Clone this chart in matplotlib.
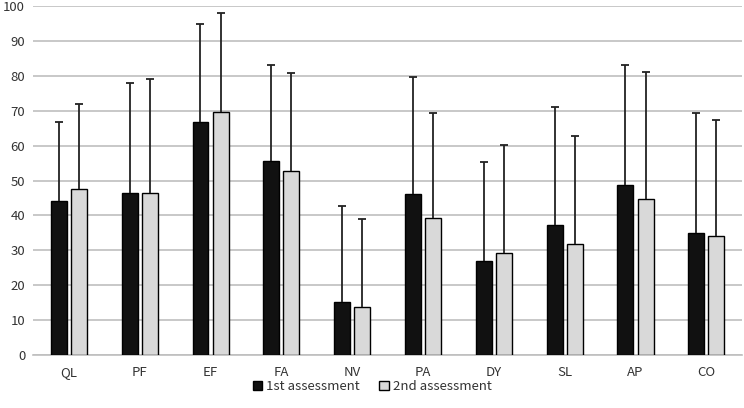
import numpy as np
import matplotlib
matplotlib.use("Agg")
import matplotlib.pyplot as plt

plt.rcParams['font.family'] = ['Noto Sans CJK JP', 'DejaVu Sans']

categories = ['QL', 'PF', 'EF', 'FA', 'NV', 'PA', 'DY', 'SL', 'AP', 'CO']
first_mean = [44.0, 46.5, 66.8, 55.7, 15.1, 46.0, 26.9, 37.3, 48.8, 35.1]
second_mean = [47.5, 46.3, 69.7, 52.6, 13.7, 39.2, 29.2, 31.7, 44.8, 34.1]
first_top = [66.8, 78.0, 94.8, 83.0, 42.7, 79.8, 55.2, 71.0, 83.2, 69.5]
second_top = [72.0, 79.2, 98.0, 80.8, 39.0, 69.4, 60.2, 62.8, 81.0, 67.4]

first_sd = np.array(first_top) - np.array(first_mean)
second_sd = np.array(second_top) - np.array(second_mean)

fig = plt.figure(figsize=(7.44, 4.08), dpi=100)
ax = fig.add_axes([0.045, 0.13, 0.952, 0.855])

x = np.arange(len(categories))
w = 0.225
off = 0.142

ax.bar(x - off, first_mean, w, color='#111111', edgecolor='black', linewidth=1,
       label='1st assessment', zorder=3)
ax.bar(x + off, second_mean, w, color='#d9d9d9', edgecolor='black', linewidth=1,
       label='2nd assessment', zorder=3)

for xs, m, sd in [(x - off, first_mean, first_sd), (x + off, second_mean, second_sd)]:
    eb = ax.errorbar(xs, m, yerr=[np.zeros(len(xs)), sd], fmt='none', ecolor='#222222',
                     elinewidth=1.3, capsize=3, capthick=1.3, zorder=4)
    eb[1][0].set_visible(False)

ax.set_xlim(-0.5, len(categories) - 0.5)
ax.set_ylim(0, 100)
ax.set_yticks(np.arange(0, 101, 10))
ax.set_xticks(x)
ax.set_xticklabels(categories)
ax.yaxis.grid(True, color='#bfbfbf', linewidth=1.2, zorder=0)
ax.set_axisbelow(True)
for s in ['top', 'right', 'left']:
    ax.spines[s].set_visible(False)
ax.spines['bottom'].set_color('#bfbfbf')
ax.spines['bottom'].set_linewidth(1.2)
ax.tick_params(length=0, labelsize=9.5, colors='#333333', pad=8)
ax.tick_params(axis='y', pad=6)

fig.legend(loc='center', bbox_to_anchor=(0.5, 0.052), ncol=2, frameon=False,
           fontsize=9.5, handlelength=0.7, handleheight=0.7, handletextpad=0.3,
           columnspacing=1.5, labelcolor='#333333')

fig.savefig('out.png', dpi=100)
